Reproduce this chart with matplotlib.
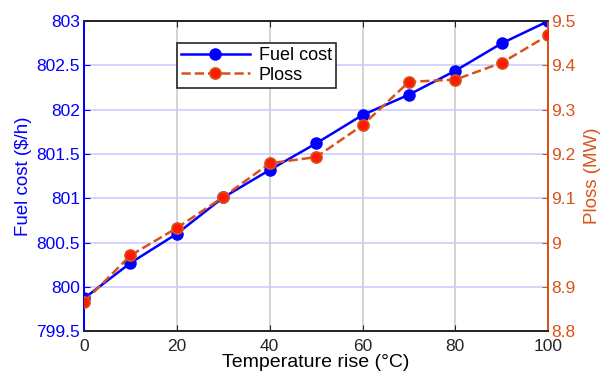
import matplotlib; matplotlib.use("Agg")
import matplotlib.pyplot as plt
import numpy as np

plt.rcParams["font.family"] = ["Liberation Sans", "DejaVu Sans"]

# temperature rise vs fuel cost and power loss
temp_rise = [0, 10, 20, 30, 40, 50, 60, 70, 80, 90, 100]
fuel_cost = [799.87, 800.27, 800.60, 801.01, 801.32, 801.62, 801.94, 802.17, 802.44, 802.75, 803.0]
ploss = [8.866, 8.971, 9.033, 9.103, 9.179, 9.193, 9.265, 9.363, 9.368, 9.406, 9.468]

blue = "#0000FF"
orange = "#D95319"

fig = plt.figure(figsize=(6.05, 3.78), dpi=100)
ax = fig.add_axes([0.139, 0.124, 0.767, 0.820])
ax2 = ax.twinx()

# grid: vertical gray, horizontal light blue
for xv in [20, 40, 60, 80]:
    ax.axvline(xv, color="#CCCCCC", lw=1.2, zorder=0)
for yv in np.arange(800, 803, 0.5):
    ax.axhline(yv, color="#CCCCFF", lw=1.2, zorder=0)

l1, = ax.plot(temp_rise, fuel_cost, "-o", color=blue, lw=1.8, ms=8,
              mfc=blue, mec=blue, label="Fuel cost", zorder=3)
l2, = ax2.plot(temp_rise, ploss, "--o", color=orange, lw=1.8, ms=8,
               mfc="#FF1A00", mec=orange, mew=1.2, label="Ploss", zorder=3)

ax.set_xlim(0, 100)
ax.set_ylim(799.5, 803)
ax2.set_ylim(8.8, 9.5)
ax.set_xticks(np.arange(0, 101, 20))
ax.set_yticks(np.arange(799.5, 803.01, 0.5))
ax.set_yticklabels(["799.5", "800", "800.5", "801", "801.5", "802", "802.5", "803"])
ax2.set_yticks(np.arange(8.8, 9.51, 0.1))
ax2.set_yticklabels(["8.8", "8.9", "9", "9.1", "9.2", "9.3", "9.4", "9.5"])

ax.set_xlabel("Temperature rise (°C)", fontsize=14, labelpad=0)
ax.set_ylabel("Fuel cost ($/h)", fontsize=13.5, color=blue, labelpad=3)
ax2.set_ylabel("Ploss (MW)", fontsize=13.5, color=orange, labelpad=6)

ax.tick_params(axis="x", labelsize=12.5, direction="in", length=4, colors="#262626",
               top=True, pad=6)
ax.tick_params(axis="y", labelsize=12.5, direction="in", length=4, colors=blue, pad=3)
ax2.tick_params(axis="y", labelsize=12.5, direction="in", length=4, colors=orange, pad=2)

for a in (ax, ax2):
    a.spines["top"].set_color("#262626")
    a.spines["bottom"].set_color("#262626")
    a.spines["left"].set_color(blue)
    a.spines["right"].set_color(orange)
    for s in a.spines.values():
        s.set_linewidth(1.4)

leg = ax2.legend([l1, l2], ["Fuel cost", "Ploss"], loc="upper left",
                 bbox_to_anchor=(0.18, 0.96), fontsize=13, frameon=True,
                 fancybox=False, edgecolor="#262626", framealpha=1,
                 handlelength=3.8, borderpad=0.25, labelspacing=0.15,
                 handletextpad=0.5)
leg.get_frame().set_linewidth(1.2)

fig.savefig("out.png", dpi=100)
